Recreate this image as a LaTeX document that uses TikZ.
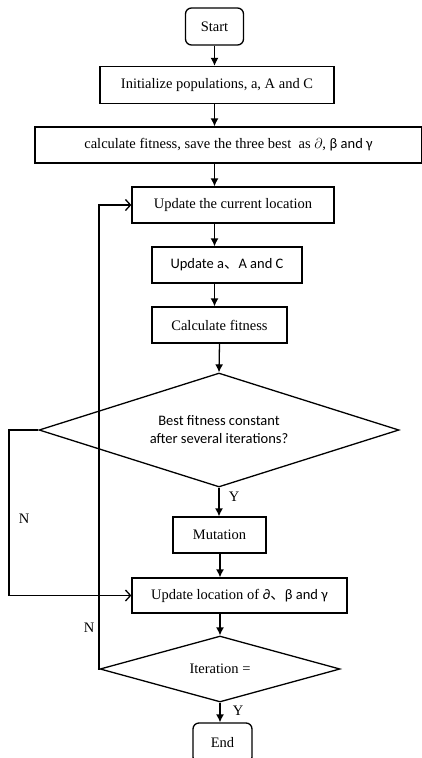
\documentclass[tikz,border=0pt]{standalone}
\usepackage{fontspec}
\setmainfont{Liberation Serif}
\newfontfamily\calfont{Carlito}
\newfontfamily\cjkfont{Noto Sans CJK SC}
\usetikzlibrary{arrows.meta,shapes.geometric}
\begin{document}
\begin{tikzpicture}[x=1pt,y=-1pt,
  every node/.style={font=\fontsize{14.5}{17}\selectfont},
  box/.style={draw,line width=1.3pt,inner sep=0pt,align=center},
  term/.style={box,rounded corners=6pt},
  dec/.style={draw,line width=1.3pt,shape=diamond,inner sep=0pt,align=center},
  arr/.style={line width=1.3pt,-{Latex[length=8pt,width=8pt]}},
  openarr/.style={line width=1.3pt,-{Straight Barb[length=5pt,width=11pt]}},
  lbl/.style={inner sep=0pt}]
\useasboundingbox (0,0) rectangle (421,758);
\node[term,minimum width=58pt,minimum height=37pt] (start) at (214.5,26.5) {Start};
\node[box,minimum width=234pt,minimum height=37pt] (init) at (217,85) {Initialize populations, a, A and C};
\node[box,minimum width=387pt,minimum height=36pt] (calc) at (228.5,145) {calculate fitness, save the three best\ \ as $\partial$, {\calfont β and γ}};
\node[box,minimum width=202pt,minimum height=36pt] (upd) at (233,205) {Update the current location};
\node[box,minimum width=150pt,minimum height=36pt] (upda) at (227,265) {\calfont Update a{\cjkfont 、}A and C};
\node[box,minimum width=135pt,minimum height=36pt] (fit) at (219.5,325) {Calculate fitness};
\node[dec,aspect=3.16,minimum width=360pt,minimum height=114pt] (d1) at (219,430) {{\calfont Best fitness constant}\\[1pt]{\calfont after several iterations?}};
\node[box,minimum width=93pt,minimum height=36pt] (mut) at (219.5,535) {Mutation};
\node[box,minimum width=215pt,minimum height=35pt] (loc) at (239.5,595.5) {Update location of {\calfont ∂{\cjkfont 、}β and γ}};
\node[dec,aspect=3.6,minimum width=240pt,minimum height=66pt] (d2) at (220,669) {Iteration =};
\node[term,minimum width=59pt,minimum height=40pt] (end) at (222.5,743) {End};

\coordinate (c1) at (9,430);
\coordinate (c2) at (99,205);

\draw[arr] (start.south) -- (start.south |- init.north);
\draw[arr] (init.south -| start.south) -- (start.south |- calc.north);
\draw[arr] (calc.south -| start.south) -- (start.south |- upd.north);
\draw[arr] (upd.south -| start.south) -- (start.south |- upda.north);
\draw[arr] (upda.south -| start.south) -- (start.south |- fit.north);
\draw[arr] (fit.south) -- (d1.north);
\draw[arr] (d1.south) -- (d1.south |- mut.north);
\draw[arr] (mut.south -| d2.north) -- (loc.north -| d2.north);
\draw[arr] (loc.south -| d2.north) -- (d2.north);
\draw[arr] (d2.south) -- (d2.south |- end.north);
\draw[openarr] (d1.west) -- (c1) |- (loc.west);
\draw[openarr] (d2.west) -- (d2.west -| c2) |- (upd.west);

\node[lbl] at (24,519) {N};
\node[lbl] at (89,628) {N};
\node[lbl] at (234,497) {Y};
\node[lbl] at (238,711) {Y};
\end{tikzpicture}
\end{document}
